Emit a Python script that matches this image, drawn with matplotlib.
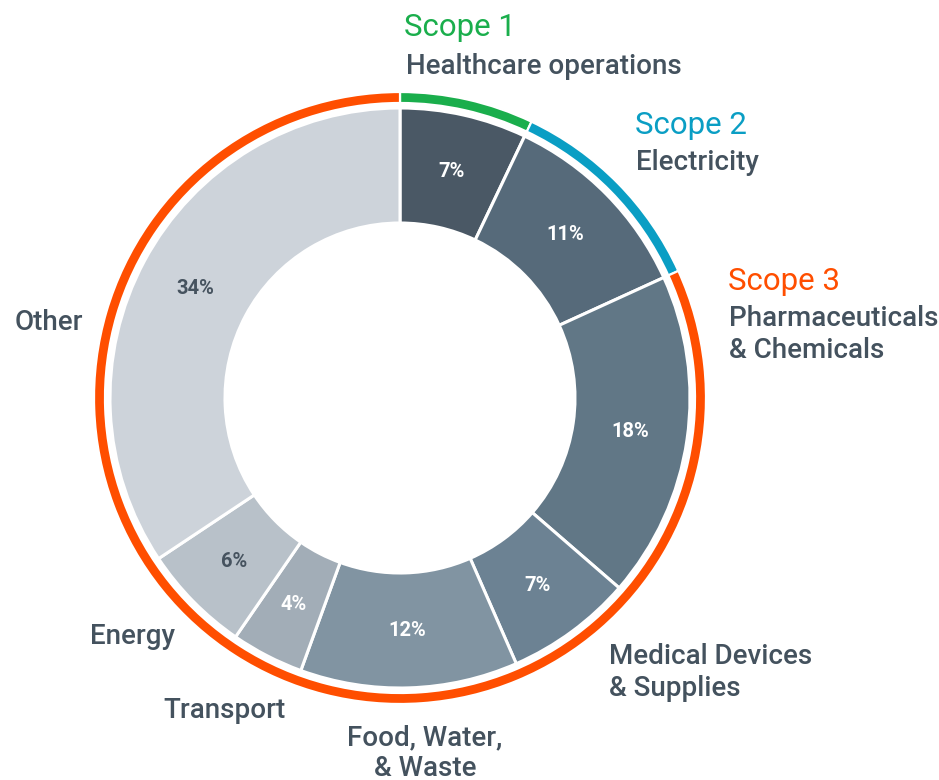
import matplotlib
matplotlib.use("Agg")
import matplotlib.pyplot as plt
import numpy as np

plt.rcParams['font.family'] = ['Roboto', 'DejaVu Sans']

categories = ["Healthcare operations", "Electricity", "Pharmaceuticals & Chemicals",
              "Medical Devices & Supplies", "Food, Water, & Waste", "Transport",
              "Energy", "Other"]
values = [7, 11, 18, 7, 12, 4, 6, 34]
pct_labels = ["7%", "11%", "18%", "7%", "12%", "4%", "6%", "34%"]
seg_colors = ["#4a5865", "#566a7a", "#617786", "#6c8293", "#8194a2",
              "#a2adb7", "#b8c1c9", "#cdd3da"]
pct_colors = ["white", "white", "white", "white", "white", "white", "#46535f", "#46535f"]

scope_names = ["Scope 1", "Scope 2", "Scope 3"]
scope_members = [[0], [1], [2, 3, 4, 5, 6, 7]]
scope_colors = ["#1aae4c", "#0a9ec4", "#ff4e00"]

text_color = "#44525e"

W, H = 939, 780
fig = plt.figure(figsize=(W / 100, H / 100), dpi=100)
ax = fig.add_axes([0, 0, 1, 1])
cx, cy = 400, 398

R = 290
inner = 175
wedges, _ = ax.pie(values, colors=seg_colors, startangle=90, counterclock=False,
                   radius=R, wedgeprops=dict(width=R - inner, edgecolor='white', linewidth=2.2))

mid_r = (R + inner) / 2
for w, lab, col in zip(wedges, pct_labels, pct_colors):
    ang = np.deg2rad((w.theta1 + w.theta2) / 2)
    ax.text(mid_r * np.cos(ang), mid_r * np.sin(ang), lab, ha='center', va='center',
            fontsize=14.5, fontweight='bold', color=col)

scope_vals = [sum(values[i] for i in m) for m in scope_members]
ax.pie(scope_vals, colors=scope_colors, startangle=90, counterclock=False,
       radius=306, wedgeprops=dict(width=11, edgecolor='white', linewidth=1.6))

ax.set_xlim(-cx, W - cx)
ax.set_ylim(-(H - cy), cy)
ax.set_aspect('equal')
ax.axis('off')


def px(x, y):
    return x - cx, cy - y


fs = 20
fw = 'medium'
sfs = 22.5
ax.text(*px(404, 28), scope_names[0], color=scope_colors[0], fontsize=sfs, ha='left', va='center')
ax.text(*px(406, 66), "Healthcare operations", color=text_color, fontsize=fs, fontweight=fw, ha='left', va='center')
ax.text(*px(635, 126), scope_names[1], color=scope_colors[1], fontsize=sfs, ha='left', va='center')
ax.text(*px(636, 162), "Electricity", color=text_color, fontsize=fs, fontweight=fw, ha='left', va='center')
ax.text(*px(728, 282), scope_names[2], color=scope_colors[2], fontsize=sfs, ha='left', va='center')
ax.text(*px(729, 318), "Pharmaceuticals", color=text_color, fontsize=fs, fontweight=fw, ha='left', va='center')
ax.text(*px(729, 350), "& Chemicals", color=text_color, fontsize=fs, fontweight=fw, ha='left', va='center')
ax.text(*px(609, 657), "Medical Devices", color=text_color, fontsize=fs, fontweight=fw, ha='left', va='center')
ax.text(*px(609, 689), "& Supplies", color=text_color, fontsize=fs, fontweight=fw, ha='left', va='center')
ax.text(*px(425, 738), "Food, Water,", color=text_color, fontsize=fs, fontweight=fw, ha='center', va='center')
ax.text(*px(425, 768), "& Waste", color=text_color, fontsize=fs, fontweight=fw, ha='center', va='center')
ax.text(*px(225, 710), "Transport", color=text_color, fontsize=fs, fontweight=fw, ha='center', va='center')
ax.text(*px(133, 636), "Energy", color=text_color, fontsize=fs, fontweight=fw, ha='center', va='center')
ax.text(*px(49, 322), "Other", color=text_color, fontsize=fs, fontweight=fw, ha='center', va='center')

fig.savefig("out.png", dpi=100, facecolor='white')
